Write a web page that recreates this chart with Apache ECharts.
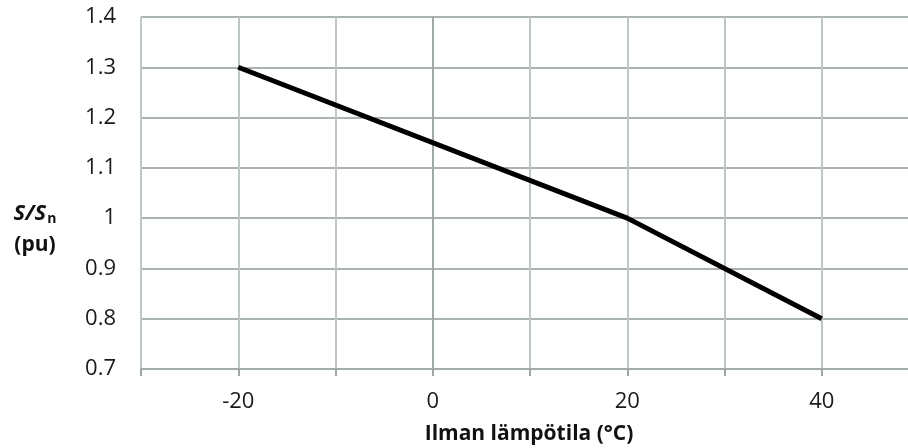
<!DOCTYPE html>
<html><head><meta charset="utf-8">
<script src="https://cdn.jsdelivr.net/npm/echarts@6/dist/echarts.min.js"></script>
<style>html,body{margin:0;padding:0;background:#fff}#c{width:908px;height:448px}</style>
</head><body><div id="c"></div>
<script>
const temps = [-20, 20, 40];
const ratio = [1.3, 1.0, 0.8];
const xTitle = 'Ilman lämpötila (°C)';
const font = 'Open Sans';
const chart = echarts.init(document.getElementById('c'));
chart.setOption({
  animation: false,
  grid: {left: 141, top: 17, width: 778, height: 352, outerBoundsMode: 'none', containLabel: false},
  xAxis: {
    type: 'value', min: -30, max: 50, interval: 10,
    axisLine: {lineStyle: {color: '#a3abab', width: 2}},
    axisTick: {show: true, length: 7, lineStyle: {color: '#9ea6a6', width: 2}},
    splitLine: {lineStyle: {color: '#bfc6c6', width: 2}},
    axisLabel: {margin: 22, color: '#1a1a1a', fontSize: 22, fontFamily: font,
      formatter: v => (v % 20 === 0 ? String(v) : '')}
  },
  yAxis: {
    type: 'value', min: 0.7, max: 1.4, interval: 0.1,
    axisLine: {show: true, lineStyle: {color: '#a0a8a8', width: 2}},
    axisTick: {show: false},
    splitLine: {lineStyle: {color: '#aab2b2', width: 2}},
    axisLabel: {margin: 25, color: '#1a1a1a', fontSize: 22, fontFamily: font,
      formatter: v => String(Math.round(v * 10) / 10)}
  },
  series: [{
    type: 'line', data: temps.map((t, i) => [t, ratio[i]]),
    showSymbol: false, lineStyle: {color: '#000', width: 5}
  }],
  graphic: [
    {type: 'text', style: {
      text: xTitle, x: 529, y: 434, align: 'center', verticalAlign: 'middle',
      font: 'bold 21px "Open Sans"', fill: '#111'}},
    {type: 'text', style: {
      text: '{i|S/S}{s|n}\n{b|(pu)}', x: 35, y: 229, align: 'center', verticalAlign: 'middle',
      rich: {
        i: {fontStyle: 'italic', fontWeight: 'bold', fontSize: 22, fontFamily: font, fill: '#111', lineHeight: 32},
        s: {fontWeight: 'bold', fontSize: 14, fontFamily: font, fill: '#111', padding: [10, 0, 0, 1], lineHeight: 32},
        b: {fontWeight: 'bold', fontSize: 21, fontFamily: font, fill: '#111', lineHeight: 30}
      }}}
  ]
});
</script></body></html>
